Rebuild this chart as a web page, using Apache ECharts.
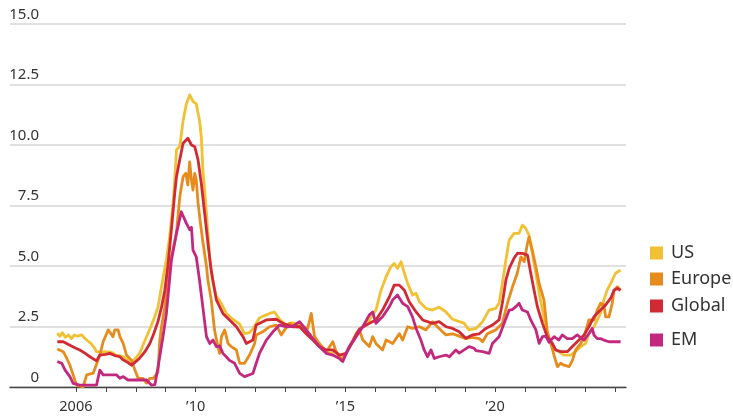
<!DOCTYPE html>
<html>
<head>
<meta charset="utf-8">
<script src="https://cdn.jsdelivr.net/npm/echarts@6/dist/echarts.min.js"></script>
<style>html,body{margin:0;padding:0;background:#fff}#c{width:733px;height:416px}</style>
</head>
<body>
<div id="c"></div>
<script>
const seriesNames = ['US', 'Europe', 'Global', 'EM'];
const yTicks = [0, 2.5, 5, 7.5, 10, 12.5, 15];
const xLabelYears = [2006, 2010, 2015, 2020];
const xTickYears = [2006,2007,2008,2009,2010,2011,2012,2013,2014,2015,2016,2017,2018,2019,2020,2021,2022,2023,2024];

const usData = [[2005.38,2.22],[2005.47,2.1],[2005.55,2.25],[2005.65,2.05],[2005.75,2.15],[2005.85,2.0],[2005.95,2.15],[2006.05,2.1],[2006.2,2.15],[2006.3,2.0],[2006.4,1.9],[2006.5,1.8],[2006.6,1.65],[2006.69,1.46],[2006.8,1.45],[2006.95,1.45],[2007.13,1.45],[2007.24,1.4],[2007.36,1.3],[2007.47,1.3],[2007.58,1.25],[2007.69,1.15],[2007.8,1.0],[2007.86,0.95],[2007.97,1.15],[2008.13,1.4],[2008.3,1.9],[2008.47,2.4],[2008.6,2.8],[2008.74,3.3],[2008.91,4.5],[2009.02,5.25],[2009.13,6.2],[2009.24,7.5],[2009.3,8.55],[2009.36,9.8],[2009.47,9.95],[2009.58,11.0],[2009.69,11.7],[2009.8,12.07],[2009.91,11.8],[2010.02,11.7],[2010.13,11.0],[2010.19,10.3],[2010.24,9.0],[2010.36,7.2],[2010.47,5.3],[2010.58,4.3],[2010.69,3.75],[2010.86,3.45],[2011.02,3.05],[2011.24,2.8],[2011.47,2.6],[2011.63,2.2],[2011.8,2.25],[2011.91,2.4],[2012.13,2.85],[2012.3,2.95],[2012.47,3.04],[2012.63,3.1],[2012.8,2.8],[2013.02,2.56],[2013.2,2.65],[2013.36,2.63],[2013.58,2.49],[2013.8,2.2],[2014.02,1.8],[2014.24,1.53],[2014.47,1.39],[2014.69,1.46],[2014.91,1.1],[2015.13,1.67],[2015.36,2.2],[2015.47,2.36],[2015.8,2.77],[2016.02,3.18],[2016.19,4.0],[2016.36,4.56],[2016.52,4.97],[2016.63,5.1],[2016.74,4.9],[2016.86,5.18],[2016.97,4.7],[2017.08,4.28],[2017.24,3.8],[2017.36,3.87],[2017.47,3.52],[2017.69,3.25],[2017.91,3.18],[2018.13,3.3],[2018.36,3.1],[2018.58,2.8],[2018.8,2.7],[2018.95,2.65],[2019.13,2.36],[2019.36,2.42],[2019.58,2.7],[2019.8,3.18],[2020.02,3.25],[2020.13,3.46],[2020.24,4.28],[2020.36,5.25],[2020.47,6.07],[2020.63,6.35],[2020.8,6.35],[2020.91,6.69],[2021.02,6.56],[2021.13,6.28],[2021.24,5.52],[2021.36,4.7],[2021.47,3.87],[2021.58,3.18],[2021.69,2.49],[2021.8,1.94],[2021.91,1.67],[2022.05,1.53],[2022.3,1.32],[2022.52,1.32],[2022.74,1.53],[2022.86,1.67],[2023.02,1.8],[2023.13,2.2],[2023.3,2.49],[2023.52,3.04],[2023.63,3.6],[2023.74,4.0],[2023.86,4.28],[2024.02,4.7],[2024.19,4.83]];

const europeData = [[2005.38,1.57],[2005.58,1.46],[2005.69,1.2],[2005.8,0.9],[2005.91,0.5],[2006.02,0.08],[2006.24,0.0],[2006.36,0.5],[2006.58,0.57],[2006.8,1.32],[2006.91,1.87],[2007.08,2.36],[2007.13,2.4],[2007.24,2.08],[2007.3,2.36],[2007.41,2.36],[2007.47,2.08],[2007.58,1.8],[2007.69,1.32],[2007.86,1.1],[2007.97,0.7],[2008.08,0.36],[2008.24,0.36],[2008.36,0.16],[2008.47,0.36],[2008.58,0.36],[2008.74,0.6],[2008.8,1.9],[2008.86,2.5],[2008.97,3.3],[2009.13,4.97],[2009.36,6.4],[2009.47,7.86],[2009.58,8.69],[2009.67,8.83],[2009.74,8.35],[2009.8,9.3],[2009.86,8.55],[2009.91,8.14],[2009.97,8.83],[2010.02,8.55],[2010.08,7.6],[2010.16,6.76],[2010.24,6.0],[2010.36,5.0],[2010.41,4.4],[2010.52,3.6],[2010.63,2.36],[2010.74,1.67],[2010.8,1.39],[2010.86,2.08],[2010.97,2.36],[2011.08,1.8],[2011.19,1.67],[2011.36,1.53],[2011.47,0.98],[2011.63,0.98],[2011.8,1.32],[2011.97,1.8],[2012.02,2.15],[2012.24,2.28],[2012.47,2.49],[2012.69,2.56],[2012.86,2.15],[2012.97,2.36],[2013.13,2.63],[2013.36,2.49],[2013.58,2.49],[2013.74,2.42],[2013.86,3.04],[2013.97,2.08],[2014.13,1.8],[2014.36,1.46],[2014.58,1.87],[2014.69,1.46],[2014.86,1.1],[2015.02,1.39],[2015.24,1.87],[2015.36,2.2],[2015.47,2.36],[2015.58,1.94],[2015.8,1.67],[2015.91,2.08],[2016.02,1.8],[2016.24,1.53],[2016.36,1.94],[2016.58,1.8],[2016.8,2.2],[2016.91,1.94],[2017.08,2.49],[2017.24,2.42],[2017.47,2.49],[2017.69,2.36],[2017.91,2.7],[2018.13,2.42],[2018.36,2.15],[2018.58,2.2],[2018.8,2.1],[2019.02,2.0],[2019.24,2.05],[2019.47,2.0],[2019.58,1.87],[2019.74,2.2],[2020.02,2.36],[2020.24,2.63],[2020.41,3.46],[2020.58,4.14],[2020.74,4.7],[2020.86,5.38],[2020.97,5.18],[2021.08,5.94],[2021.13,6.2],[2021.24,5.66],[2021.36,4.97],[2021.47,4.28],[2021.63,3.6],[2021.74,2.3],[2021.86,1.8],[2021.97,1.3],[2022.08,0.84],[2022.19,0.98],[2022.3,0.9],[2022.47,0.84],[2022.58,1.1],[2022.69,1.53],[2022.86,1.8],[2022.97,2.08],[2023.13,2.77],[2023.3,2.77],[2023.41,3.18],[2023.52,3.46],[2023.63,3.4],[2023.69,2.9],[2023.8,2.9],[2023.91,3.46],[2023.97,4.0],[2024.08,4.14],[2024.19,4.0]];

const globalData = [[2005.38,1.87],[2005.58,1.87],[2005.8,1.73],[2006.0,1.6],[2006.13,1.53],[2006.3,1.4],[2006.47,1.25],[2006.69,1.08],[2006.8,1.32],[2007.0,1.35],[2007.13,1.39],[2007.3,1.3],[2007.47,1.25],[2007.58,1.12],[2007.75,1.0],[2007.86,0.9],[2008.0,1.05],[2008.13,1.19],[2008.3,1.45],[2008.47,1.8],[2008.6,2.2],[2008.74,2.7],[2008.86,3.3],[2008.97,4.0],[2009.08,5.1],[2009.19,6.5],[2009.3,8.0],[2009.36,8.7],[2009.47,9.4],[2009.58,10.07],[2009.74,10.28],[2009.8,10.34],[2009.86,10.0],[2009.97,9.93],[2010.08,9.38],[2010.19,8.4],[2010.3,7.18],[2010.41,5.94],[2010.52,4.8],[2010.69,3.6],[2010.91,3.04],[2011.13,2.77],[2011.36,2.49],[2011.58,2.08],[2011.69,1.8],[2011.91,1.94],[2012.02,2.56],[2012.36,2.77],[2012.69,2.8],[2012.91,2.63],[2013.24,2.49],[2013.47,2.49],[2013.69,2.2],[2013.91,1.94],[2014.13,1.67],[2014.36,1.53],[2014.58,1.53],[2014.8,1.32],[2015.02,1.39],[2015.24,1.87],[2015.47,2.4],[2015.8,2.63],[2016.02,2.77],[2016.24,3.18],[2016.47,3.73],[2016.63,4.21],[2016.8,4.21],[2016.97,4.0],[2017.13,3.52],[2017.36,3.1],[2017.58,2.77],[2017.91,2.63],[2018.13,2.7],[2018.36,2.49],[2018.58,2.42],[2018.8,2.28],[2019.02,2.01],[2019.24,2.15],[2019.47,2.2],[2019.69,2.42],[2019.91,2.56],[2020.13,2.77],[2020.24,3.46],[2020.36,4.42],[2020.47,4.9],[2020.63,5.32],[2020.74,5.52],[2020.91,5.52],[2021.08,5.45],[2021.19,4.7],[2021.3,4.0],[2021.41,3.32],[2021.58,2.63],[2021.74,2.08],[2021.91,1.8],[2022.02,1.53],[2022.19,1.46],[2022.41,1.46],[2022.58,1.67],[2022.74,1.87],[2022.97,2.15],[2023.13,2.49],[2023.3,2.9],[2023.52,3.18],[2023.69,3.39],[2023.86,3.67],[2023.97,4.0],[2024.08,4.07],[2024.19,4.0]];

const emData = [[2005.38,1.05],[2005.53,0.98],[2005.64,0.7],[2005.8,0.43],[2005.91,0.15],[2006.13,0.08],[2006.69,0.08],[2006.8,0.7],[2006.91,0.5],[2007.36,0.5],[2007.47,0.36],[2007.58,0.43],[2007.74,0.29],[2008.36,0.29],[2008.52,0.08],[2008.64,0.1],[2008.74,0.8],[2008.91,2.1],[2009.02,3.0],[2009.19,5.25],[2009.36,6.35],[2009.52,7.24],[2009.58,7.3],[2009.69,6.76],[2009.8,6.5],[2009.86,6.6],[2009.91,5.66],[2010.02,5.38],[2010.13,4.4],[2010.24,3.3],[2010.36,2.08],[2010.47,1.8],[2010.58,1.94],[2010.69,1.67],[2010.8,1.7],[2010.91,1.39],[2011.02,1.25],[2011.13,1.1],[2011.3,0.98],[2011.47,0.56],[2011.63,0.43],[2011.91,0.56],[2012.13,1.39],[2012.36,1.94],[2012.58,2.28],[2012.8,2.56],[2013.02,2.49],[2013.24,2.5],[2013.47,2.7],[2013.69,2.36],[2013.91,2.01],[2014.13,1.67],[2014.36,1.39],[2014.58,1.32],[2014.8,1.18],[2014.91,1.05],[2015.13,1.67],[2015.36,2.08],[2015.58,2.49],[2015.8,2.98],[2015.91,3.1],[2016.02,2.63],[2016.24,2.9],[2016.47,3.32],[2016.58,3.6],[2016.74,3.8],[2016.91,3.46],[2017.08,3.32],[2017.24,2.9],[2017.36,2.42],[2017.52,1.94],[2017.63,1.53],[2017.74,1.25],[2017.86,1.53],[2017.97,1.18],[2018.13,1.25],[2018.36,1.32],[2018.47,1.25],[2018.69,1.53],[2018.8,1.4],[2019.13,1.67],[2019.3,1.6],[2019.36,1.5],[2019.58,1.46],[2019.8,1.39],[2019.91,1.8],[2020.13,2.08],[2020.3,2.63],[2020.47,3.18],[2020.58,3.2],[2020.69,3.32],[2020.8,3.46],[2020.91,3.18],[2021.08,3.1],[2021.19,2.77],[2021.36,2.36],[2021.47,1.8],[2021.58,2.08],[2021.69,2.1],[2021.8,1.85],[2021.97,2.08],[2022.13,1.94],[2022.24,2.15],[2022.41,2.0],[2022.58,2.0],[2022.74,2.15],[2022.97,1.94],[2023.13,2.2],[2023.24,2.42],[2023.3,2.15],[2023.41,2.0],[2023.52,2.0],[2023.63,1.94],[2023.8,1.87],[2024.19,1.87]];

const colors = ['#f0c133', '#e68c1c', '#d22a35', '#c2287d'];
const allData = [usData, europeData, globalData, emData];
const legendTops = [239, 265, 292, 326];
const FONT = '"Noto Sans", sans-serif';

const chart = echarts.init(document.getElementById('c'), null, {renderer: 'canvas'});
chart.setOption({
  animation: false,
  backgroundColor: '#fff',
  grid: {left: 10, right: 107, top: 24, bottom: 29, containLabel: false},
  legend: seriesNames.map((n, i) => ({
    data: [n], left: 645, top: legendTops[i], orient: 'vertical',
    icon: 'rect', itemWidth: 13, itemHeight: 13, selectedMode: false,
    textStyle: {fontFamily: FONT, fontSize: 18, color: '#333', padding: [0, 0, 0, 3], lineHeight: 18}
  })),
  xAxis: {
    type: 'value', min: 2003.8, max: 2024.37,
    axisLine: {show: true, lineStyle: {color: '#444', width: 1.3}},
    axisTick: {show: true, length: 5, lineStyle: {color: '#444', width: 1}, customValues: xTickYears},
    axisLabel: {
      customValues: xLabelYears, margin: 12, fontFamily: FONT, fontSize: 14.5, color: '#333',
      formatter: v => v === 2006 ? '2006' : '\u2019' + String(v).slice(2)
    },
    splitLine: {show: false}
  },
  yAxis: {
    type: 'value', min: 0, max: 15, interval: 2.5,
    axisLine: {show: false}, axisTick: {show: false},
    axisLabel: {
      inside: true, align: 'right', margin: 29, verticalAlign: 'bottom', padding: [0, 0, 2, 0],
      fontFamily: FONT, fontSize: 15, color: '#333',
      formatter: v => v === 0 ? '0' : v.toFixed(1)
    },
    splitLine: {show: true, lineStyle: {color: '#e0e0e0', width: 2}}
  },
  series: seriesNames.map((n, i) => ({
    name: n, type: 'line', data: allData[i], showSymbol: false, symbol: 'none',
    itemStyle: {color: colors[i]},
    lineStyle: {color: colors[i], width: 2.8, join: 'round'},
    z: 2 + i
  }))
});
</script>
</body>
</html>
